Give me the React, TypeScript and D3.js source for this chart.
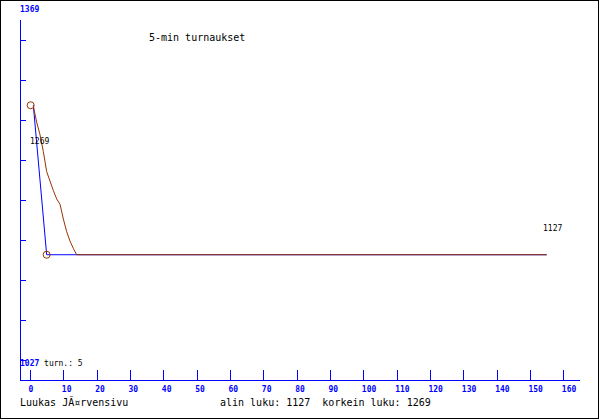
import * as d3 from "d3";
import { useEffect, useRef } from "react";

// minutes and ratings
const blueMinutes = [1, 5, 155];
const blueValues = [1269, 1127, 1127];
const avgMinutes = [1, 2, 3, 4, 5, 6, 7, 8, 9, 10, 11, 12, 13, 14, 155];
const avgValues = [1268, 1253, 1241, 1225, 1206, 1197, 1188, 1180, 1175, 1161, 1149, 1140, 1133, 1127, 1127];
const markerMinutes = [0.2, 5];
const markerValues = [1269, 1127];
const xTicks = d3.range(0, 161, 10);
const yMin = 1027;
const yMax = 1369;
const title = "5-min turnaukset";
const author = "Luukas JÃ¤rvensivu";
const stats = "alin luku: 1127  korkein luku: 1269";
const games = "turn.: 5";

const BLUE = "#0000ff";
const BROWN = "#993300";
const MONO = "'DejaVu Sans Mono', monospace";

const App = () => {
  const ref = useRef<SVGSVGElement>(null);

  useEffect(() => {
    const svg = d3.select(ref.current);
    const width = 600;
    const height = 420;
    svg.attr("width", width).attr("height", height);

    const x = d3.scaleLinear().domain([0, 160]).range([30, 563.33]);
    const y = d3.scaleLinear().domain([yMin, yMax]).range([360, 0]);

    svg.append("rect")
      .attr("width", width).attr("height", height).attr("fill", "#fff");
    svg.append("rect")
      .attr("x", 0.5).attr("y", 0.5)
      .attr("width", width - 2).attr("height", height - 2)
      .attr("fill", "none").attr("stroke", "#000");

    // axes
    const ax = svg.append("g").attr("stroke", BLUE).attr("shape-rendering", "crispEdges");
    ax.append("line").attr("x1", 20.5).attr("x2", 20.5).attr("y1", 20).attr("y2", 380);
    ax.append("line").attr("x1", 20).attr("x2", 580).attr("y1", 380.5).attr("y2", 380.5);
    const yTicks = d3.range(1, 10).map((i) => yMax - i * 38);
    ax.selectAll(".yt").data(yTicks).join("line")
      .attr("x1", 20).attr("x2", 26)
      .attr("y1", (d) => Math.round(y(d)) + 0.5).attr("y2", (d) => Math.round(y(d)) + 0.5);
    ax.selectAll(".xt").data(xTicks).join("line")
      .attr("x1", (d) => Math.round(x(d)) + 0.5).attr("x2", (d) => Math.round(x(d)) + 0.5)
      .attr("y1", 370).attr("y2", 380);

    svg.append("g").selectAll("text").data(xTicks).join("text")
      .attr("x", (d) => x(d) - 1.5).attr("y", 392)
      .attr("font-family", MONO).attr("font-size", 8).attr("font-weight", "bold")
      .attr("fill", BLUE).text((d) => d);

    svg.append("text").attr("x", 20).attr("y", 11.5)
      .attr("font-family", MONO).attr("font-size", 8).attr("font-weight", "bold")
      .attr("fill", BLUE).text(yMax);
    const bottom = svg.append("text").attr("x", 20).attr("y", 366)
      .attr("font-family", MONO).attr("font-size", 8)
      .attr("xml:space", "preserve");
    bottom.append("tspan").attr("fill", BLUE).attr("font-weight", "bold").text(yMin);
    bottom.append("tspan").attr("fill", "#000").text(" " + games);

    // lines
    const line = d3.line<[number, number]>().x((d) => x(d[0])).y((d) => y(d[1]));
    svg.append("path")
      .datum(blueMinutes.map((m, i) => [m, blueValues[i]] as [number, number]))
      .attr("d", line).attr("fill", "none").attr("stroke", BLUE).attr("stroke-width", 1);
    svg.append("path")
      .datum(avgMinutes.map((m, i) => [m, avgValues[i]] as [number, number]))
      .attr("d", line).attr("fill", "none").attr("stroke", BROWN).attr("stroke-width", 1);
    svg.selectAll(".mk").data(markerMinutes).join("circle")
      .attr("cx", (d) => x(d)).attr("cy", (d, i) => y(markerValues[i]))
      .attr("r", 3.5).attr("fill", "none").attr("stroke", BROWN).attr("stroke-width", 1);

    // value labels
    svg.append("text").attr("x", 30).attr("y", 143.5)
      .attr("font-family", MONO).attr("font-size", 8)
      .attr("fill", "#000").text(d3.max(markerValues)!);
    svg.append("text").attr("x", 543).attr("y", 231)
      .attr("font-family", MONO).attr("font-size", 8)
      .attr("fill", "#000").text(avgValues[avgValues.length - 1]);

    // title and footer
    svg.append("text").attr("x", 149).attr("y", 40.5)
      .attr("font-family", MONO).attr("font-size", 10).attr("fill", "#000").text(title);
    svg.append("text").attr("x", 20).attr("y", 405.5)
      .attr("font-family", MONO).attr("font-size", 10).attr("fill", "#000").text(author);
    svg.append("text").attr("x", 220).attr("y", 405.5).attr("xml:space", "preserve")
      .attr("font-family", MONO).attr("font-size", 10).attr("fill", "#000").text(stats);

    return () => {
      svg.selectAll("*").remove();
    };
  }, []);

  return <svg ref={ref} style={{ position: "absolute", left: 0, top: 0, display: "block" }}></svg>;
};

export default App;
